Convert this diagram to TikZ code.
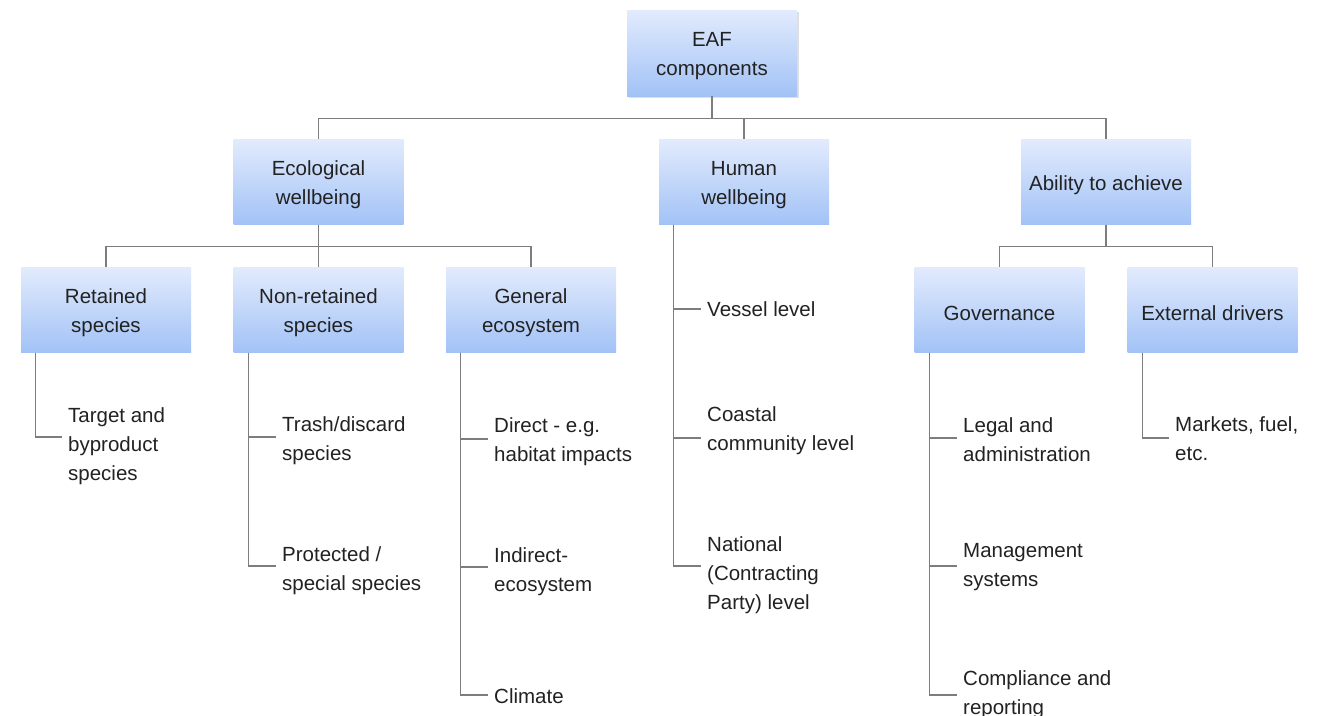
\documentclass[tikz,border=0pt]{standalone}
\usepackage{fontspec}
\setmainfont{Liberation Sans}
\usetikzlibrary{shadows,calc}
\definecolor{boxtop}{RGB}{226,235,253}
\definecolor{boxbot}{RGB}{162,194,246}
\definecolor{linegray}{RGB}{125,125,125}
\definecolor{txt}{RGB}{34,34,34}
\tikzset{
  box/.style={rectangle, minimum width=170pt, minimum height=85pt, inner sep=0pt,
    top color=boxtop, bottom color=boxbot, draw=none},
  boxtext/.style={align=center, inner sep=0pt, text=txt},
  leaf/.style={anchor=west, align=left, inner sep=0pt, text=txt},
  conn/.style={draw=linegray, line width=1.1pt}
}
\newcommand{\bx}[4][]{\node[box,#1] (#2) at (#3) {};
  \node[boxtext] (#2t) at ([yshift=-3pt]#2.center) {#4};}
\begin{document}
\begin{tikzpicture}[x=1pt,y=-1pt,font=\fontsize{20.5}{29}\selectfont]
\useasboundingbox (0,0) rectangle (1319,715);
\fill[white] (0,0) rectangle (1319,715);
\clip (0,0) rectangle (1319,715);
% level 0
\bx[drop shadow={shadow xshift=2pt, shadow yshift=-2pt, opacity=0.25}, minimum height=86pt]{eaf}{712,53}{EAF\\components}
% level 1
\bx{eco}{318.5,182}{Ecological\\wellbeing}
\bx{hum}{744,182}{Human\\wellbeing}
\bx{abl}{1106,182}{Ability to achieve}
% level 2
\bx{ret}{106,310}{Retained\\species}
\bx{nret}{318.5,310}{Non-retained\\species}
\bx{gen}{531,310}{General\\ecosystem}
\bx{gov}{999.5,310}{Governance}
\bx{ext}{1212.5,310}{External drivers}
% leaves
\node[leaf] (t1) at (68,446) {Target and\\byproduct\\species};
\node[leaf] (n1) at (282,440.5) {Trash/discard\\species};
\node[leaf] (n2) at (282,570.5) {Protected /\\special species};
\node[leaf] (g1) at (494,441.5) {Direct - e.g.\\habitat impacts};
\node[leaf] (g2) at (494,571.5) {Indirect-\\ecosystem};
\node[leaf] (g3) at (494,696) {Climate};
\node[leaf] (h1) at (707,309.5) {Vessel level};
\node[leaf] (h2) at (707,431) {Coastal\\community level};
\node[leaf] (h3) at (707,575) {National\\(Contracting\\Party) level};
\node[leaf] (v1) at (963,440) {Legal and\\administration};
\node[leaf] (v2) at (963,567) {Management\\systems};
\node[leaf] (v3) at (963,694.5) {Compliance and\\reporting};
\node[leaf] (x1) at (1175,439) {Markets, fuel,\\etc.};
% tree connectors
\draw[conn] (eaf.south) -- ++(0,22) coordinate (e1) -| (eco.north);
\draw[conn] (e1) -| (hum.north);
\draw[conn] (e1) -| (abl.north);
\draw[conn] (eco.south) -- ++(0,22) coordinate (c1) -| (ret.north);
\draw[conn] (c1) -- (nret.north);
\draw[conn] (c1) -| (gen.north);
\draw[conn] (abl.south) -- ++(0,22) coordinate (a1) -| (gov.north);
\draw[conn] (a1) -| (ext.north);
% leaf connectors
\draw[conn] ([xshift=15pt]ret.south west) |- ([xshift=-6pt,yshift=9pt]t1.west);
\draw[conn] ([xshift=15pt]nret.south west) |- ([xshift=-6pt,yshift=4.5pt]n2.west);
\draw[conn] ([xshift=15pt]nret.south west) |- ([xshift=-6pt,yshift=3.5pt]n1.west);
\draw[conn] ([xshift=15pt]gen.south west) |- ([xshift=-6pt,yshift=1pt]g3.west);
\draw[conn] ([xshift=15pt]gen.south west) |- ([xshift=-6pt,yshift=4.5pt]g2.west);
\draw[conn] ([xshift=15pt]gen.south west) |- ([xshift=-6pt,yshift=2.5pt]g1.west);
\draw[conn] ([xshift=15pt]hum.south west) |- ([xshift=-6pt,yshift=9pt]h3.west);
\draw[conn] ([xshift=15pt]hum.south west) |- ([xshift=-6pt,yshift=-7pt]h2.west);
\draw[conn] ([xshift=15pt]hum.south west) |- ([xshift=-6pt,yshift=0.5pt]h1.west);
\draw[conn] ([xshift=15pt]gov.south west) |- ([xshift=-6pt,yshift=-0.5pt]v3.west);
\draw[conn] ([xshift=15pt]gov.south west) |- ([xshift=-6pt,yshift=1pt]v2.west);
\draw[conn] ([xshift=15pt]gov.south west) |- ([xshift=-6pt,yshift=2pt]v1.west);
\draw[conn] ([xshift=15pt]ext.south west) |- ([xshift=-6pt,yshift=1pt]x1.west);
\end{tikzpicture}
\end{document}
